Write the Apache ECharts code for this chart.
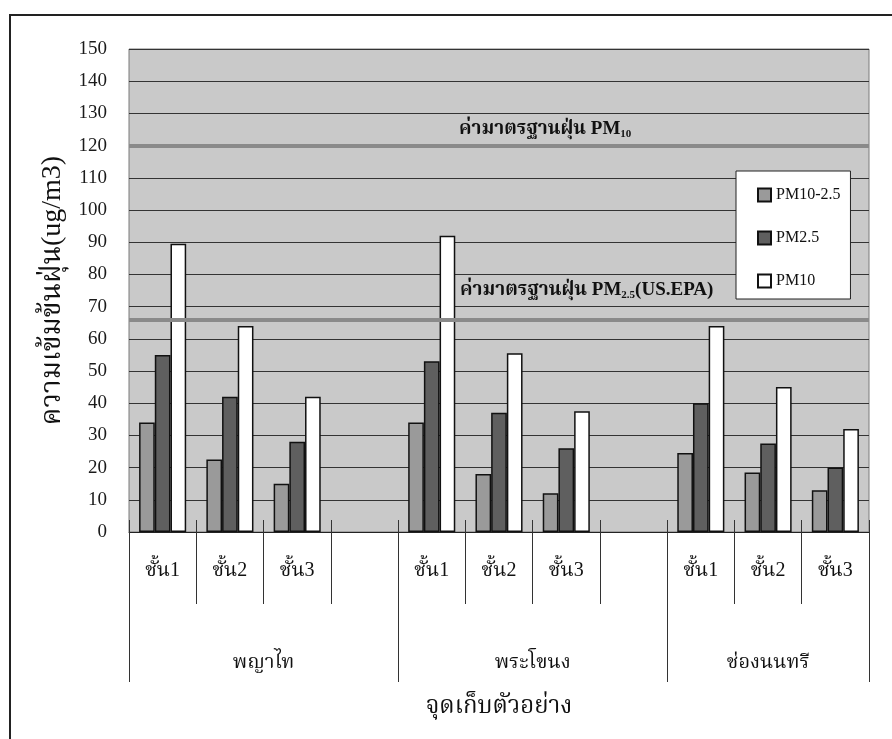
<!DOCTYPE html>
<html>
<head>
<meta charset="utf-8">
<script src="https://cdn.jsdelivr.net/npm/echarts@6/dist/echarts.min.js"></script>
<style>
  html, body { margin: 0; padding: 0; background: #fff; }
  #chart { width: 892px; height: 739px; }
</style>
</head>
<body>
<div id="chart"></div>
<script>
// Floor levels at each sampling site; empty slots separate the sites
const categories = ['ชั้น1', 'ชั้น2', 'ชั้น3', '', 'ชั้น1', 'ชั้น2', 'ชั้น3', '', 'ชั้น1', 'ชั้น2', 'ชั้น3'];
// Sampling sites and the category index range each one covers
const sites = ['พญาไท', 'พระโขนง', 'ช่องนนทรี'];
const siteSpans = [[0, 3], [4, 7], [8, 10]];

// Dust concentrations (ug/m3)
const pmCoarse = [34, 22.5, 15, null, 34, 18, 12, null, 24.5, 18.5, 13];
const pm25 = [55, 42, 28, null, 53, 37, 26, null, 40, 27.5, 20];
const pm10 = [89.5, 64, 42, null, 92, 55.5, 37.5, null, 64, 45, 32];

// Standards
const pm10Standard = 120;
const pm25Standard = 66;

const yTicks = { min: 0, max: 150, interval: 10 };

const serif = "'Liberation Serif', 'Times New Roman', serif";
const thai = "'Liberation Serif', 'Noto Serif Thai', 'Noto Sans Thai', 'Garuda', 'Loma', serif";

const chart = echarts.init(document.getElementById('chart'));

const barBorder = { borderColor: '#111', borderWidth: 1.5 };

const richStd = {
  t: { fontFamily: thai, fontSize: 19, fontWeight: 'bold', color: '#111' },
  s: { fontFamily: serif, fontSize: 11, fontWeight: 'bold', color: '#111', padding: [10, 0, 0, 0] }
};

const option = {
  animation: false,
  backgroundColor: '#ffffff',
  grid: {
    left: 129, top: 49, width: 740, height: 483,
    show: true, backgroundColor: '#c9c9c9', borderColor: '#7a7a7a', borderWidth: 1
  },
  legend: {
    orient: 'vertical',
    left: 736, top: 171, width: 133, height: 135,
    backgroundColor: '#ffffff', borderColor: '#222', borderWidth: 1,
    padding: [16, 10, 10, 21],
    itemGap: 27, itemWidth: 13, itemHeight: 13, icon: 'rect',
    textStyle: { fontFamily: serif, fontSize: 16, color: '#111' },
    data: ['PM10-2.5', 'PM2.5', 'PM10']
  },
  xAxis: [
    {
      type: 'category', data: categories, position: 'bottom',
      axisLine: { show: true, lineStyle: { color: '#222', width: 1 } },
      axisTick: { show: true, inside: true, length: 12, interval: 0, lineStyle: { color: '#333' } },
      axisLabel: { interval: 0, margin: 29, fontFamily: thai, fontSize: 20, color: '#111' },
      splitLine: { show: false },
      name: 'จุดเก็บตัวอย่าง', nameLocation: 'middle', nameGap: 163,
      nameTextStyle: { fontFamily: thai, fontSize: 24, color: '#111' }
    },
    {
      type: 'category', data: categories, position: 'bottom', offset: 0,
      axisLine: { show: false },
      axisTick: { show: true, length: 72, interval: 0, lineStyle: { color: '#333' } },
      axisLabel: { show: false }, splitLine: { show: false }
    },
    {
      type: 'category', data: categories, position: 'bottom', offset: 0,
      axisLine: { show: false },
      axisTick: {
        show: true, length: 150, lineStyle: { color: '#333' },
        interval: (i) => siteSpans.some(s => s[0] === i)
      },
      axisLabel: { show: false }, splitLine: { show: false }
    }
  ],
  yAxis: {
    type: 'value', min: yTicks.min, max: yTicks.max, interval: yTicks.interval,
    axisLine: { show: false }, axisTick: { show: false },
    axisLabel: { margin: 22, fontFamily: serif, fontSize: 19, color: '#1a1a1a' },
    splitLine: { lineStyle: { color: '#333', width: 1 } },
    name: 'ความเข้มข้นฝุ่น(ug/m3)', nameLocation: 'middle', nameGap: 62,
    nameTextStyle: { fontFamily: thai, fontSize: 28, color: '#111' }
  },
  series: [
    {
      name: 'PM10-2.5', type: 'bar', data: pmCoarse, xAxisIndex: 0,
      barGap: '0%', barCategoryGap: '30%',
      itemStyle: Object.assign({ color: '#9a9a9a' }, barBorder),
      markLine: {
        silent: true, symbol: 'none',
        lineStyle: { color: '#8a8a8a', width: 4, type: 'solid' },
        label: { show: true, position: 'insideStartTop', rich: richStd },
        data: [
          {
            yAxis: pm10Standard,
            label: { distance: [330, 6], formatter: '{t|ค่ามาตรฐานฝุ่น PM}{s|10}' }
          },
          {
            yAxis: pm25Standard,
            label: { distance: [331, 19], formatter: '{t|ค่ามาตรฐานฝุ่น PM}{s|2.5}{t|(US.EPA)}' }
          }
        ]
      }
    },
    {
      name: 'PM2.5', type: 'bar', data: pm25, xAxisIndex: 0,
      barGap: '0%', barCategoryGap: '30%',
      itemStyle: Object.assign({ color: '#5f5f5f' }, barBorder)
    },
    {
      name: 'PM10', type: 'bar', data: pm10, xAxisIndex: 0,
      barGap: '0%', barCategoryGap: '30%',
      itemStyle: Object.assign({ color: '#ffffff' }, barBorder)
    }
  ],
  graphic: [
    {
      type: 'rect', silent: true,
      shape: { x: 10, y: 15, width: 1000, height: 1000 },
      style: { fill: 'none', stroke: '#222', lineWidth: 2 }
    }
  ]
};

chart.setOption(option);

// Site names centred under each group of floors, positioned from the axis scale
const siteY = chart.convertToPixel({ yAxisIndex: 0 }, 0) + 131;
const siteLabels = sites.map((name, k) => {
  const a = chart.convertToPixel({ xAxisIndex: 0 }, siteSpans[k][0]);
  const b = chart.convertToPixel({ xAxisIndex: 0 }, siteSpans[k][1]);
  return {
    type: 'text', silent: true,
    x: (a + b) / 2, y: siteY,
    style: { text: name, fontFamily: thai, fontSize: 20, fill: '#111', align: 'center', verticalAlign: 'middle' }
  };
});
chart.setOption({ graphic: option.graphic.concat(siteLabels) });
</script>
</body>
</html>
